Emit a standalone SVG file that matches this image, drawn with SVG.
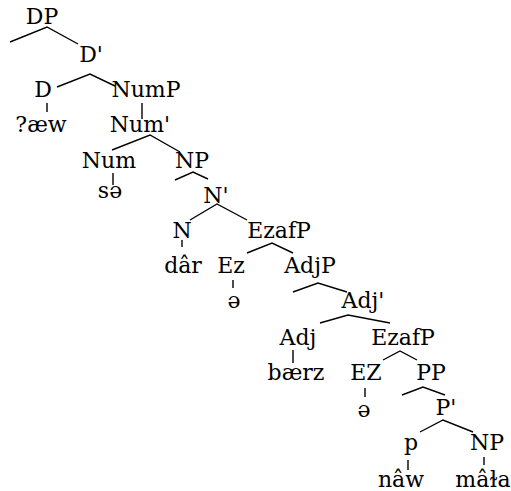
<svg xmlns="http://www.w3.org/2000/svg" width="511" height="491" viewBox="0 0 511 491">
<style>
text{font-family:'DejaVu Serif',serif;font-size:22px;fill:#000;text-anchor:middle}
.e{stroke:#000;stroke-width:1.4;fill:none}
</style>
<rect width="511" height="491" fill="#fff"/>
<g id="connectors" class="e">
<polyline points="10,42 47,27 78,44"/>
<polyline points="57,87 90,74 115,86"/>
<line x1="47" y1="103" x2="47" y2="112"/>
<line x1="142" y1="103" x2="142" y2="119"/>
<polyline points="112,150 150,135 180,152"/>
<line x1="113" y1="173" x2="113" y2="185"/>
<polyline points="175,180 193,172 208,179"/>
<polyline points="190,220 217,204 247,220"/>
<line x1="182" y1="240" x2="182" y2="247"/>
<polyline points="247,253 272,243 293,253"/>
<line x1="233" y1="280" x2="233" y2="288"/>
<polyline points="293,292 318,283 347,292"/>
<polyline points="320,323 348,315 390,323"/>
<line x1="293" y1="350" x2="293" y2="363"/>
<polyline points="383,360 400,351 417,360"/>
<line x1="365" y1="388" x2="365" y2="397"/>
<polyline points="402,395 423,387 445,395"/>
<polyline points="420,432 443,420 473,432"/>
<line x1="408" y1="460" x2="408" y2="470"/>
<line x1="484" y1="457" x2="484" y2="465"/>
</g>
<g id="n-DP"><text x="42" y="24">DP</text></g>
<g id="n-D1"><text x="91" y="62">D'</text></g>
<g id="n-D"><text x="43" y="97">D</text></g>
<g id="n-NumP"><text x="146" y="97">NumP</text></g>
<g id="n-aew"><text x="41" y="132">?æw</text></g>
<g id="n-Num1"><text x="140" y="132">Num'</text></g>
<g id="n-Num"><text x="109" y="168">Num</text></g>
<g id="n-NP1"><text x="192" y="168">NP</text></g>
<g id="n-se"><text x="110" y="198">sə</text></g>
<g id="n-N1"><text x="216" y="203">N'</text></g>
<g id="n-N"><text x="182" y="238">N</text></g>
<g id="n-EzafP1"><text x="279" y="238">EzafP</text></g>
<g id="n-dar"><text x="183" y="273">dâr</text></g>
<g id="n-Ez"><text x="231" y="273">Ez</text></g>
<g id="n-AdjP"><text x="310" y="273">AdjP</text></g>
<g id="n-e1"><text x="234" y="308">ə</text></g>
<g id="n-Adj1"><text x="363" y="308">Adj'</text></g>
<g id="n-Adj"><text x="298" y="345">Adj</text></g>
<g id="n-EzafP2"><text x="403" y="345">EzafP</text></g>
<g id="n-baerz"><text x="296" y="380">bærz</text></g>
<g id="n-EZ"><text x="366" y="380">EZ</text></g>
<g id="n-PP"><text x="431" y="380">PP</text></g>
<g id="n-e2"><text x="364" y="417">ə</text></g>
<g id="n-P1"><text x="446" y="415">P'</text></g>
<g id="n-p"><text x="411" y="450">p</text></g>
<g id="n-NP2"><text x="487" y="450">NP</text></g>
<g id="n-naw"><text x="401" y="487">nâw</text></g>
<g id="n-mata"><text x="483" y="487">mâɫa</text></g>
</svg>
